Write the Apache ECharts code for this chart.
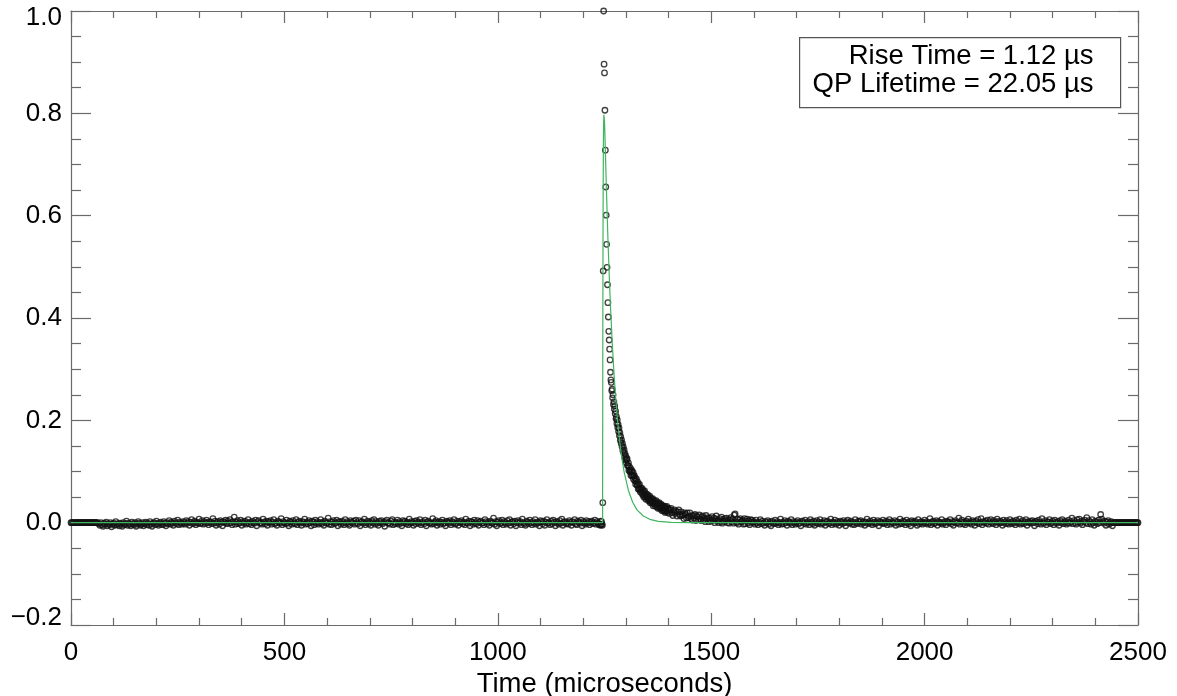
<!DOCTYPE html>
<html>
<head>
<meta charset="utf-8">
<script src="https://cdn.jsdelivr.net/npm/echarts@6/dist/echarts.min.js"></script>
<style>html,body{margin:0;padding:0;background:#fff}#c{width:1177px;height:696px}</style>
</head>
<body>
<div id="c"></div>
<script>
// ---------------- data (values in thousandths of the normalised amplitude) ----------------
// zero padding at both ends of the record (times in microseconds)
const padLeftStart = 0, padLeftStep = 2;
const padLeft = [0,0,0,0,0,0,0,0,0,0,0,0,0,0,0,0,0,0,0,0,0,0,0,0,0,0,0,0,0,0,0,0];
const padRightStart = 2442, padRightStep = 2;
const padRight = [0,0,0,0,0,0,0,0,0,0,0,0,0,0,0,0,0,0,0,0,0,0,0,0,0,0,0,0,0,0];

// baseline before the pulse: t = 65 .. 1240 us, every 2.5 us
const preStart = 65, preStep = 2.5;
const preBaseline = [
 -2,-5,0,-4,-7,-1,-3,1,-6,-2,-4,0,-8,-3,-1,-5,2,-4,-2,-6,
 -1,-3,-7,0,-4,-2,3,-5,-1,-3,-6,1,-2,-4,0,-7,-3,2,-1,-5,
 -3,0,-6,-2,1,-4,-1,-5,2,-3,-7,-1,0,-4,3,-2,-5,-1,1,-3,
 -4,2,-1,-6,0,-2,4,-3,1,-1,-5,3,0,-2,5,-4,1,-1,-3,2,
 0,-3,4,-1,2,-5,1,6,-2,0,3,-4,1,-1,7,-2,0,4,-3,2,
 -1,5,0,-4,2,1,-2,8,-1,3,-5,0,2,-3,4,1,-6,2,0,5,
 -2,3,-1,6,0,-4,2,11,-3,1,4,-2,0,5,-5,2,-1,3,-3,0,
 6,-2,1,-4,3,0,-1,5,-6,2,4,-1,0,-3,7,1,-2,3,-5,2,
 0,4,-3,1,6,-2,0,-5,3,1,-1,8,-4,2,0,-2,5,-1,-6,3,
 1,-3,4,0,-2,6,-4,1,3,-1,-5,2,0,7,-3,1,-2,4,0,-6,
 3,1,-4,5,-1,2,-3,0,6,-2,1,-5,3,0,-1,9,-3,2,-4,1,
 4,-2,0,5,-6,2,1,-3,3,0,-4,6,-1,2,-2,-5,4,1,-1,3,
 -3,5,0,-2,4,-6,1,2,-1,7,-4,0,3,-2,1,-5,4,0,6,-3,
 2,-1,-5,3,0,4,-2,1,-7,2,5,-1,0,-3,3,6,-4,1,-2,0,
 5,-3,2,-1,-6,4,0,3,-2,1,-4,7,-1,2,0,-5,3,-2,4,1,
 -1,6,-4,0,2,-2,5,-6,1,3,-1,0,-3,8,-2,1,4,-5,0,2,
 -3,1,5,-2,0,-6,3,1,-1,4,-4,2,0,6,-3,-1,3,-5,2,0,
 4,-2,1,-4,7,0,-1,3,-6,2,1,-3,5,0,-2,4,-5,1,3,-1,
 0,-4,6,2,-2,1,-5,3,0,-1,9,-3,2,-6,1,4,-2,0,5,-4,
 2,0,-3,4,-1,6,-5,1,2,-2,3,-6,0,4,-1,2,-4,7,0,-2,
 -5,3,1,-2,5,0,-4,2,-1,6,-3,1,0,-6,4,2,-2,3,-5,1,
 6,-1,0,-4,3,-2,5,1,-6,2,0,-3,4,-1,7,-5,1,2,-2,0,
 -3,4,1,-5,2,0,6,-2,-4,3,1,-1,5,-6,2,0,-3,4,-1,2,
 -4,1,3,-2,0,5,-3,2,-1,-4,-5
];

// pulse: t = 1241 .. 1299 us, every 1 us
const pulseStart = 1241, pulseStep = 1;
const pulse = [
 3,-4,2,-3,-5,39,492,1000,896,879,806,728,656,601,544,499,465,430,402,374,357,339,318,294,279,
 274,258,261,244,250,231,236,222,228,213,218,203,207,194,201,186,192,178,185,170,176,161,168,155,162,149,155,141,148,136,142,128,135,123
];

// tail: t = 1300 .. 1399 us, every 1 us
const tailAStart = 1300, tailAStep = 1;
const tailA = [
 130,117,123,125,111,112,117,102,110,103,
 99,106,92,100,102,91,93,98,85,91,
 92,82,87,75,81,85,73,75,79,66,
 74,65,75,66,60,68,64,59,67,55,
 63,55,50,59,62,50,54,46,56,51,
 47,55,49,43,51,45,52,39,46,41,
 47,38,41,47,33,43,37,43,33,39,
 36,43,31,37,39,28,35,30,39,30,
 34,27,36,29,24,34,29,31,23,32,
 24,32,20,27,30,23,32,20,24,27
];

// tail: t = 1400 .. 1598 us, every 2 us
const tailBStart = 1400, tailBStep = 2;
const tailB = [
 28,18,25,28,19,14,22,25,18,22,
 13,21,25,16,13,21,14,16,8,19,
 16,9,19,10,13,19,8,13,5,14,
 9,16,4,13,11,6,15,8,4,11,
 13,5,9,2,14,7,10,2,9,5,
 3,12,5,9,0,8,13,3,5,0,
 8,3,11,-1,6,2,8,3,9,0,
 6,-1,5,10,2,7,-1,15,17,2,
 0,7,-3,5,8,1,3,5,-3,8,
 -2,3,7,-1,4,-4,6,1,5,0
];

// baseline after the pulse: t = 1600 .. 2440 us, every 2.5 us
const postStart = 1600, postStep = 2.5;
const postBaseline = [
 2,-3,5,0,-4,1,6,-2,3,-1,-5,2,0,4,-3,1,-6,3,0,-2,
 5,-1,2,-4,0,7,-3,1,-2,4,0,-5,3,1,-1,6,-4,2,0,-3,
 1,4,-2,0,-6,3,2,-1,5,-3,0,2,-4,6,1,-2,3,-5,0,4,
 -2,1,6,-3,0,-1,4,-5,2,3,-2,0,7,-4,1,-1,5,-3,2,0,
 -5,3,1,-2,4,0,-6,2,5,-1,0,3,-3,1,-4,6,0,-2,3,1,
 4,-3,0,2,-5,1,7,-2,0,3,-1,-4,5,1,-2,0,4,-6,2,1,
 -1,5,-2,0,3,-4,1,6,-3,2,0,-1,4,-5,2,1,-3,7,0,-2,
 3,1,-4,5,0,-2,2,-6,4,1,-1,3,0,-5,6,-2,1,2,-3,0,
 5,-1,2,-3,0,8,-4,1,3,-2,0,4,-5,2,1,-1,6,-3,0,2,
 -4,3,1,0,6,-2,2,-5,1,4,-1,0,9,-3,2,5,-2,1,-4,3,
 0,7,-1,2,-3,4,1,-5,3,0,6,-2,1,8,-4,2,0,3,-1,5,
 -3,2,6,0,-2,4,1,-4,7,2,-1,3,0,-5,5,1,-2,4,0,-3,
 6,1,-2,3,0,-4,5,2,-1,7,-3,0,4,-2,1,6,-5,2,0,3,
 -1,4,0,-6,3,2,-2,5,1,-3,8,0,-1,4,-4,2,1,6,-2,0,
 3,-4,5,1,-1,2,-5,4,0,6,-2,1,3,-3,0,5,-1,2,9,-2,
 4,0,-3,6,1,7,-1,3,-4,2,5,0,10,-2,4,1,-3,6,0,-5,
 3,1,-2,5,0,16,7,2,-1,3,-5,1,4,-3,0,2,-6
];

// fitted curve (rise 1.12 us, QP lifetime 22.05 us)
const fitTimes = [0,1245.5,1246,1246.5,1247,1247.5,1248,1248.5,1249,1250,1251,1252,1254,1256,1258,1261,1264,1268,1272,1276,1281,1286,1291,1296,1306,1316,1326,1341,1356,1376,1406,1446,1500,2500];
const fitValues = [0,0,0.345,0.554,0.675,0.745,0.781,0.797,0.799,0.784,0.758,0.728,0.666,0.609,0.556,0.485,0.423,0.353,0.295,0.246,0.196,0.156,0.124,0.099,0.063,0.040,0.025,0.013,0.0065,0.0026,0.0007,0.0001,0,0];

// axis ticks
const xTicks = {min: 0, max: 2500, interval: 500};
const yTicks = {min: -0.2, max: 1.0, interval: 0.2};
const xTitle = 'Time (microseconds)';
const annotLines = ['Rise Time = 1.12 \u00b5s', 'QP Lifetime = 22.05 \u00b5s'];

// ---------------- build ----------------
const points = [];
function addSeq(t0, step, vals) { vals.forEach((v, i) => points.push([t0 + i * step, v / 1000])); }
addSeq(padLeftStart, padLeftStep, padLeft);
addSeq(preStart, preStep, preBaseline);
addSeq(pulseStart, pulseStep, pulse);
addSeq(tailAStart, tailAStep, tailA);
addSeq(tailBStart, tailBStep, tailB);
addSeq(postStart, postStep, postBaseline);
addSeq(padRightStart, padRightStep, padRight);
const fit = fitTimes.map((t, i) => [t, fitValues[i]]);

const FONT = "'Liberation Sans', Arial, Helvetica, sans-serif";
const AX = '#6a6a6a';
const labelBase = {fontSize: 26, color: '#000', fontFamily: FONT};

function xAxisDef(pos, labels) {
  return {
    type: 'value', position: pos, min: xTicks.min, max: xTicks.max, interval: xTicks.interval,
    axisLine: {show: true, onZero: false, lineStyle: {color: AX, width: 1.2}},
    axisTick: {show: true, inside: true, length: 12, lineStyle: {color: AX, width: 1.2}},
    minorTick: {show: true, splitNumber: 5, length: 7, lineStyle: {color: AX, width: 1.2}},
    splitLine: {show: false},
    axisLabel: Object.assign({show: labels, margin: 15, formatter: v => String(v)}, labelBase),
    name: labels ? xTitle : '', nameLocation: 'middle', nameGap: 43,
    nameTextStyle: {fontSize: 27.5, color: '#000', fontFamily: FONT}
  };
}
function fmtY(v) {
  if (Math.abs(v) < 1e-9) return '0.0';
  const s = v < 0 ? '\u2212' + Math.abs(v).toFixed(1) : v.toFixed(1);
  if (Math.abs(v - yTicks.max) < 1e-9) return '{t|' + s + '}';
  if (Math.abs(v - yTicks.min) < 1e-9) return '{b|' + s + '}';
  return s;
}
function yAxisDef(pos, labels) {
  return {
    type: 'value', position: pos, min: yTicks.min, max: yTicks.max, interval: yTicks.interval,
    axisLine: {show: true, onZero: false, lineStyle: {color: AX, width: 1.2}},
    axisTick: {show: true, inside: true, length: 20, lineStyle: {color: AX, width: 1.2}},
    minorTick: {show: true, splitNumber: 4, length: 10, lineStyle: {color: AX, width: 1.2}},
    splitLine: {show: false},
    axisLabel: Object.assign({show: labels, margin: 9, formatter: fmtY,
      rich: {t: Object.assign({padding: [14, 0, 0, 0]}, labelBase),
             b: Object.assign({padding: [0, 0, 14, 0]}, labelBase)}}, labelBase)
  };
}

const chart = echarts.init(document.getElementById('c'), null, {renderer: 'canvas'});
chart.setOption({
  animation: false,
  backgroundColor: '#fff',
  grid: {left: 71, right: 39, top: 11, bottom: 71, containLabel: false, outerBoundsMode: 'none'},
  xAxis: [xAxisDef('bottom', true), xAxisDef('top', false)],
  yAxis: [yAxisDef('left', true), yAxisDef('right', false)],
  series: [
    {
      type: 'scatter', xAxisIndex: 0, yAxisIndex: 0, data: points,
      symbol: 'circle', symbolSize: 5.5,
      itemStyle: {color: 'rgba(0,0,0,0)', borderColor: '#111', borderWidth: 1.3},
      emphasis: {disabled: true}, z: 2
    },
    {
      type: 'line', xAxisIndex: 0, yAxisIndex: 0, data: fit, showSymbol: false,
      lineStyle: {color: '#3fb55e', width: 1.2}, emphasis: {disabled: true}, z: 3
    }
  ],
  graphic: [
    {
      type: 'group', left: 799, top: 37, children: [
        {type: 'rect', shape: {x: 0, y: 0, width: 321, height: 70},
         style: {fill: '#fff', stroke: '#555', lineWidth: 1.2}},
        {type: 'text', x: 294, y: 19, style: {text: annotLines[0], fill: '#000', fontSize: 27.5,
          fontFamily: FONT, textAlign: 'right', textVerticalAlign: 'middle'}},
        {type: 'text', x: 294, y: 47, style: {text: annotLines[1], fill: '#000', fontSize: 27.5,
          fontFamily: FONT, textAlign: 'right', textVerticalAlign: 'middle'}}
      ]
    }
  ]
});
</script>
</body>
</html>
